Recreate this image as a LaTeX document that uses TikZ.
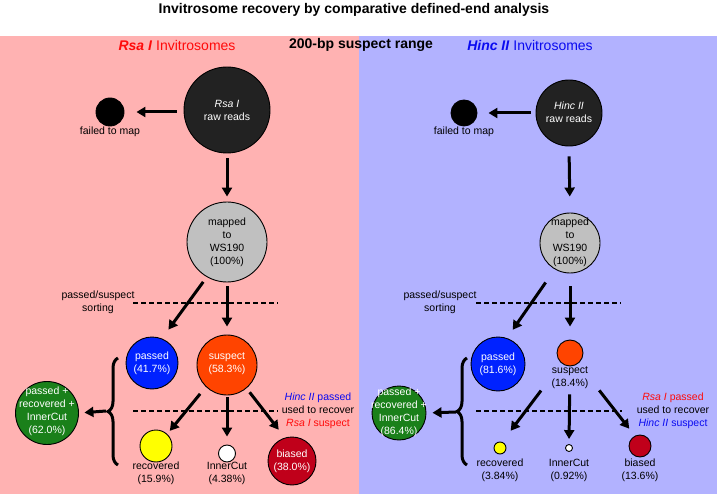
\documentclass[tikz,border=0pt]{standalone}
\usepackage{fontspec}
\setmainfont{Liberation Sans}
\usetikzlibrary{arrows.meta,decorations.pathreplacing,calc}
\definecolor{pinkbg}{RGB}{255,178,178}
\definecolor{bluebg}{RGB}{178,178,255}
\definecolor{rawc}{RGB}{34,34,34}
\definecolor{mapc}{RGB}{192,192,192}
\definecolor{passc}{RGB}{0,34,255}
\definecolor{susc}{RGB}{255,68,0}
\definecolor{greenc}{RGB}{26,128,26}
\definecolor{yelc}{RGB}{255,255,0}
\definecolor{biasc}{RGB}{192,0,26}
\definecolor{redt}{RGB}{255,10,10}
\definecolor{bluet}{RGB}{10,10,240}
\begin{document}
\begin{tikzpicture}[x=1pt,y=-1pt,
  circ/.style={circle,draw=black,line width=0.9pt,inner sep=0pt},
  lbl/.style={font=\fontsize{10.5}{13}\selectfont,align=center,inner sep=0pt},
  wlbl/.style={lbl,text=white},
  arr/.style={line width=3pt,-{Triangle[length=9pt,width=10pt]}},
  dashln/.style={line width=1.8pt,dash pattern=on 5pt off 3pt},
  bracestyle/.style={line width=3pt,decorate,decoration={brace,amplitude=10pt}}]

\useasboundingbox (0,0) rectangle (717,494);
\fill[white] (0,0) rectangle (717,494);
\fill[pinkbg] (0,36) rectangle (358.5,494);
\fill[bluebg] (358.5,36) rectangle (717,494);

\node[font=\bfseries\fontsize{14}{16}\selectfont] (title) at (354,10) {Invitrosome recovery by comparative defined-end analysis};
\node[font=\fontsize{14}{16}\selectfont,text=redt] (lhead) at (177,45) {\textbf{\textit{Rsa I}} Invitrosomes};
\node[font=\bfseries\fontsize{14}{16}\selectfont] (mhead) at (361,45) {200-bp suspect range};
\node[font=\fontsize{14}{16}\selectfont,text=bluet] (rhead) at (530,45) {\textbf{\textit{Hinc II}} Invitrosomes};

% dashed sorting lines
\draw[dashln] (133,303) -- (278,303);
\draw[dashln] (133,411) -- (278,411);
\draw[dashln] (476,303) -- (621,303);
\draw[dashln] (476,411) -- (622,411);

% ---------- left panel ----------
\node[circ,fill=rawc,minimum size=86pt] (Lraw) at (227,110) {};
\node[wlbl] (Lrawt) at (Lraw) {\textit{Rsa I}\\raw reads};
\node[circ,fill=black,minimum size=28pt] (Lfail) at (110,112) {};
\node[lbl] (Lfailt) at (110,132) {failed to map};
\node[circ,fill=mapc,minimum size=80pt] (Lmap) at (227,242) {};
\node[lbl] (Lmapt) at (227,242.5) {mapped\\to\\WS190\\(100\%)};
\node[lbl] (Lsort) at (98,302) {passed/suspect\\sorting};
\node[circ,fill=passc,minimum size=52pt] (Lpass) at (152,363) {};
\node[wlbl] (Lpasst) at (152,363.5) {passed\\(41.7\%)};
\node[circ,fill=susc,minimum size=60pt] (Lsus) at (227,365) {};
\node[wlbl] (Lsust) at (227,363.5) {suspect\\(58.3\%)};
\node[circ,fill=greenc,minimum size=63pt] (Lgreen) at (47,413) {};
\node[wlbl] (Lgreent) at (47,411.5) {passed +\\recovered +\\InnerCut\\(62.0\%)};
\node[circ,fill=yelc,minimum size=32pt] (Lrec) at (156,446) {};
\node[lbl] (Lrect) at (156,473.5) {recovered\\(15.9\%)};
\node[circ,fill=white,minimum size=17pt] (Linner) at (227,453.5) {};
\node[lbl] (Linnert) at (227,473.5) {InnerCut\\(4.38\%)};
\node[circ,fill=biasc,minimum size=48pt] (Lbias) at (292,461) {};
\node[wlbl] (Lbiast) at (292,461.5) {biased\\(38.0\%)};
\node[lbl] (Lside) at (318,411) {\textcolor{bluet}{\textit{Hinc II} passed}\\used to recover\\\textcolor{redt}{\textit{Rsa I} suspect}};

\draw[arr,shorten <=7pt,shorten >=12pt] (Lraw.west |- Lfail) -- (Lfail.east);
\draw[arr,shorten <=5pt,shorten >=5pt] (Lraw.south) -- (Lmap.north);
\draw[arr,shorten <=6pt,shorten >=11pt] (Lmap.240) -- (Lpass.68);
\draw[arr,shorten <=4pt,shorten >=8pt] (Lmap.south) -- (Lsus.north);
\draw[arr,shorten <=9pt,shorten >=4pt] (Lsus.226) -- (Lrec.47);
\draw[arr,shorten <=2pt,shorten >=8pt] (Lsus.south) -- (Linner.north);
\draw[arr,shorten <=5pt,shorten >=10pt] (Lsus.310) -- (Lbias.107);

\coordinate (Lb1) at (118,465);
\coordinate (Lb2) at (118,358);
\draw[bracestyle] (Lb1) -- (Lb2);
\coordinate (Lbt) at (106,411);
\draw[arr,shorten >=5.5pt] (Lbt) -- (Lgreen.east);

% ---------- right panel ----------
\node[circ,fill=rawc,minimum size=66pt] (Rraw) at (569,113) {};
\node[wlbl] (Rrawt) at (569,112.5) {\textit{Hinc II}\\raw reads};
\node[circ,fill=black,minimum size=26pt] (Rfail) at (464,113) {};
\node[lbl] (Rfailt) at (464,132) {failed to map};
\node[circ,fill=mapc,minimum size=60pt] (Rmap) at (570,243) {};
\node[lbl] (Rmapt) at (570,242.5) {mapped\\to\\WS190\\(100\%)};
\node[lbl] (Rsort) at (440,302) {passed/suspect\\sorting};
\node[circ,fill=passc,minimum size=54pt] (Rpass) at (498,364) {};
\node[wlbl] (Rpasst) at (498,364.5) {passed\\(81.6\%)};
\node[circ,fill=susc,minimum size=26pt] (Rsus) at (570,353) {};
\node[lbl] (Rsust) at (570,377.5) {suspect\\(18.4\%)};
\node[circ,fill=greenc,minimum size=54pt] (Rgreen) at (399,413) {};
\node[wlbl] (Rgreent) at (399,412.5) {passed +\\recovered +\\InnerCut\\(86.4\%)};
\node[circ,fill=yelc,minimum size=12pt] (Rrec) at (500,448) {};
\node[lbl] (Rrect) at (500,470) {recovered\\(3.84\%)};
\node[circ,fill=white,minimum size=7pt] (Rinner) at (569,448) {};
\node[lbl] (Rinnert) at (569,470) {InnerCut\\(0.92\%)};
\node[circ,fill=biasc,minimum size=22pt] (Rbias) at (640,446) {};
\node[lbl] (Rbiast) at (640,470) {biased\\(13.6\%)};
\node[lbl] (Rside) at (673,411) {\textcolor{redt}{\textit{Rsa I} passed}\\used to recover\\\textcolor{bluet}{\textit{Hinc II} suspect}};

\draw[arr,shorten <=5pt,shorten >=11pt] (Rraw.west |- Rfail) -- (Rfail.east);
\draw[arr,shorten <=10pt,shorten >=16pt] (Rraw.south) -- (Rmap.north);
\draw[arr,shorten <=16pt,shorten >=10pt] (Rmap.240) -- (Rpass.71);
\draw[arr,shorten <=13pt,shorten >=13pt] (Rmap.south) -- (Rsus.north);
\draw[arr,shorten <=34pt,shorten >=14pt] (Rsus.231) -- (Rrec.70);
\draw[arr,shorten <=28pt,shorten >=5pt] (Rsus.south) -- (Rinner.north);
\draw[arr,shorten <=34pt,shorten >=9pt] (Rsus.308) -- (Rbias.117);

\coordinate (Rb1) at (467,465);
\coordinate (Rb2) at (467,358);
\draw[bracestyle] (Rb1) -- (Rb2);
\coordinate (Rbt) at (456,412);
\draw[arr,shorten >=6pt] (Rbt) -- (Rgreen.east);
\end{tikzpicture}
\end{document}
